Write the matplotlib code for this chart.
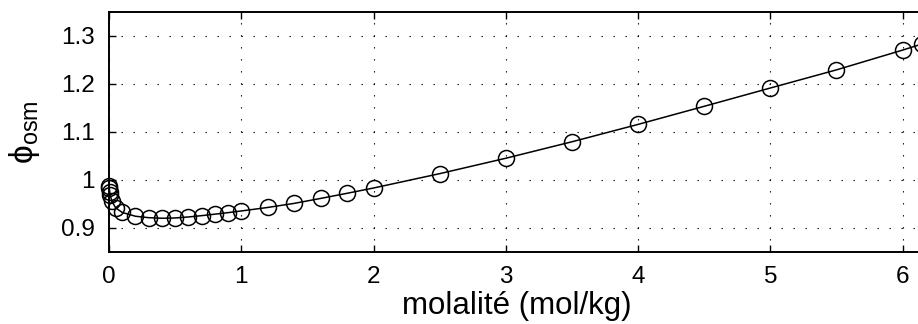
import numpy as np
import matplotlib.pyplot as plt

plt.rcParams['font.family'] = ['Liberation Sans', 'DejaVu Sans']
plt.rcParams['mathtext.fontset'] = 'custom'
plt.rcParams['mathtext.rm'] = 'Liberation Sans'
plt.rcParams['mathtext.it'] = 'Liberation Sans'

# molality (mol/kg) and osmotic coefficient
molalite = [0.001, 0.002, 0.005, 0.01, 0.02, 0.05, 0.1, 0.2, 0.3, 0.4, 0.5,
            0.6, 0.7, 0.8, 0.9, 1.0, 1.2, 1.4, 1.6, 1.8, 2.0, 2.5, 3.0, 3.5,
            4.0, 4.5, 5.0, 5.5, 6.0, 6.144]
phi_osm = [0.988, 0.984, 0.976, 0.968, 0.957, 0.942, 0.9324, 0.9245, 0.9215,
           0.9203, 0.9209, 0.9230, 0.9257, 0.9288, 0.9320, 0.9355, 0.9428,
           0.9513, 0.9616, 0.9723, 0.9833, 1.0132, 1.0453, 1.0796, 1.1158,
           1.1535, 1.1916, 1.2294, 1.2706, 1.283]

xticks = [0, 1, 2, 3, 4, 5, 6]
yticks = [0.9, 1.0, 1.1, 1.2, 1.3]
yticklabels = ['0.9', '1', '1.1', '1.2', '1.3']

fig = plt.figure(figsize=(9.18, 3.24), dpi=100)
ax = fig.add_axes([109/918, 72/324, 816/918, 240/324])

ax.plot(molalite, phi_osm, '-', color='k', lw=1.1, clip_on=False)
ax.plot(molalite, phi_osm, 'o', mfc='none', mec='k', ms=11.5, mew=1.1,
        clip_on=False)

ax.set_xlim(0, 6.17)
ax.set_ylim(0.85, 1.35)
ax.set_xticks(xticks)
ax.set_yticks(yticks)
ax.set_yticklabels(yticklabels)
ax.tick_params(direction='in', length=5, width=1, top=True, right=True,
               labelsize=17.5, pad=10)
ax.grid(True, color='k', linestyle=(0, (1.2, 9.6)), linewidth=0.8)
for s in ax.spines.values():
    s.set_linewidth(1.4)

ax.set_xlabel('molalité (mol/kg)', fontsize=22.5, labelpad=2)
ax.set_ylabel(r'$\mathrm{\phi_{osm}}$', fontsize=24, labelpad=14)

plt.savefig('out.png', dpi=100)
